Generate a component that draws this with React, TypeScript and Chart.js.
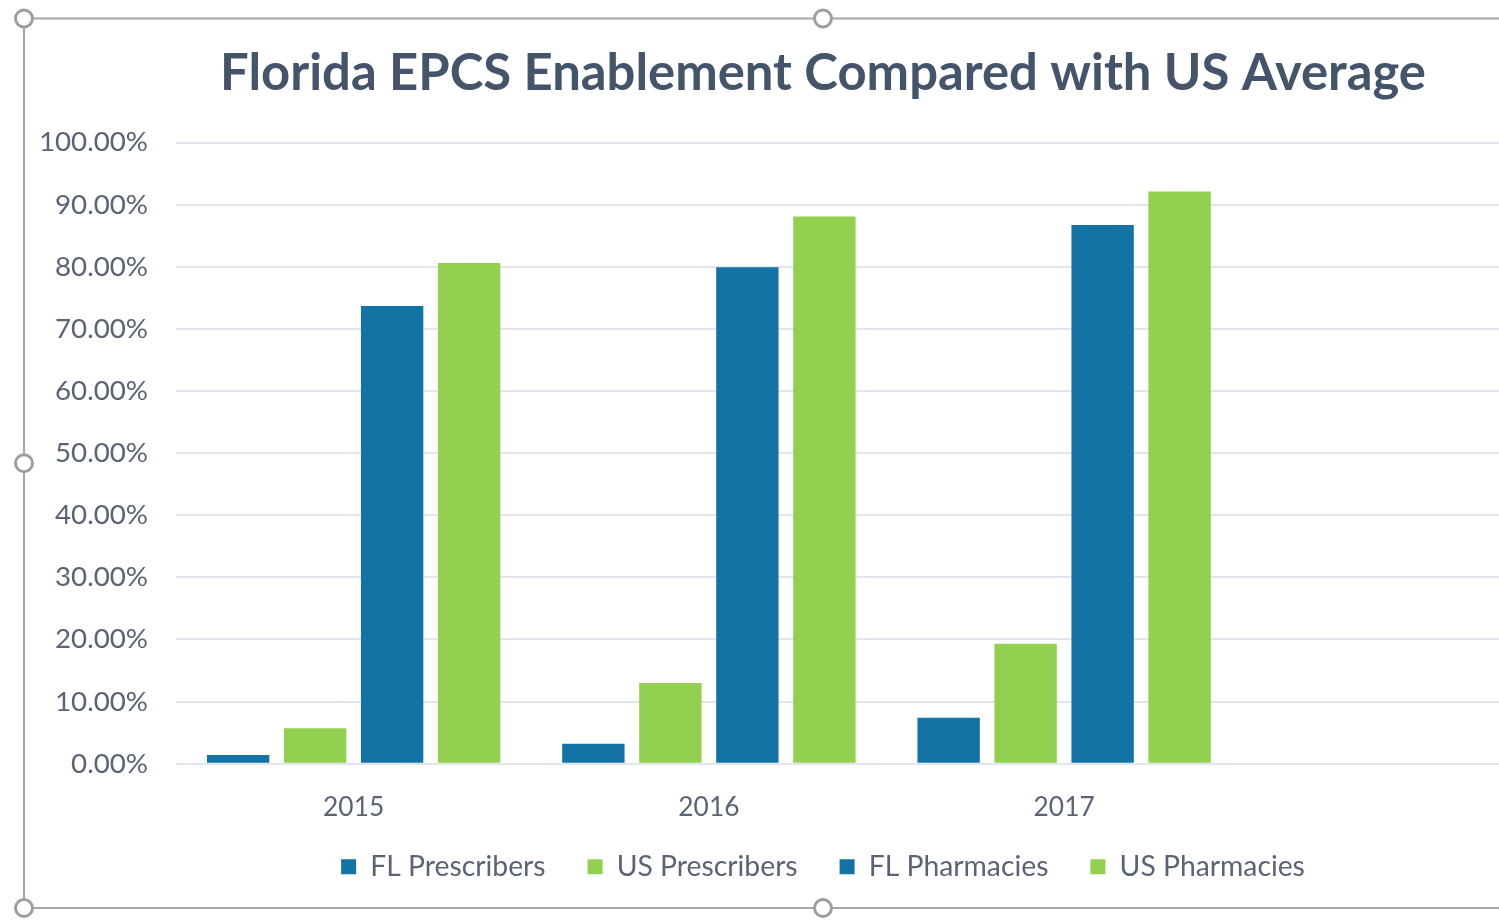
import React, { useEffect, useRef } from 'react';
import { Chart, registerables } from 'chart.js';

Chart.register(...registerables);

// ---- data ----
const categories = ['2015', '2016', '2017', ''];
const flPrescribers = [1.4, 3.2, 7.4, null];
const usPrescribers = [5.7, 13.0, 19.3, null];
const flPharmacies = [73.7, 79.9, 86.7, null];
const usPharmacies = [80.6, 88.1, 92.1, null];
const seriesNames = ['FL Prescribers', 'US Prescribers', 'FL Pharmacies', 'US Pharmacies'];
const titleText = 'Florida EPCS Enablement Compared with US Average';
const yMin = 0;
const yMax = 100;
const yStep = 10;

// ---- style ----
const W = 1650;
const H = 920;
const BLUE = '#1373A5';
const GREEN = '#92D050';
const TITLE_COLOR = '#44546A';
const TEXT_COLOR = '#5A6475';
const GRID_COLOR = '#E2E6EC';
const FAMILY = 'Lato, "Open Sans", sans-serif';

function fitSize(text: string, weight: string, target: number): number {
  const ctx = document.createElement('canvas').getContext('2d') as CanvasRenderingContext2D;
  ctx.font = `${weight} 100px ${FAMILY}`;
  const w = ctx.measureText(text).width;
  return Math.round((100 * target) / w * 10) / 10;
}

const legendShiftPlugin = {
  id: 'legendShift',
  afterLayout(chart: any) {
    const lg = chart.legend;
    if (lg) {
      lg.top -= 10;
      lg.bottom -= 10;
    }
  },
};

const framePlugin = {
  id: 'frame',
  afterDraw(chart: any) {
    const ctx = chart.ctx as CanvasRenderingContext2D;
    const L = 24, T = 18.5, R = 1622, B = 908;
    ctx.save();
    ctx.strokeStyle = '#A6A6A6';
    ctx.lineWidth = 2;
    ctx.strokeRect(L, T, R - L, B - T);
    const mx = (L + R) / 2;
    const my = (T + B) / 2;
    const handles = [
      [L, T], [mx, T], [R, T], [L, my], [R, my], [L, B], [mx, B], [R, B],
    ];
    for (const [x, y] of handles) {
      ctx.beginPath();
      ctx.arc(x, y, 8.5, 0, Math.PI * 2);
      ctx.fillStyle = '#FFFFFF';
      ctx.fill();
      ctx.lineWidth = 3;
      ctx.strokeStyle = '#9E9E9E';
      ctx.stroke();
    }
    ctx.restore();
  },
};

export default function App() {
  const ref = useRef<HTMLCanvasElement>(null);

  useEffect(() => {
    if (!ref.current) return;
    const titleSize = fitSize(titleText, 'bold', 1207);
    const tickSize = fitSize('100.00%', 'normal', 109);
    const xSize = fitSize('2015', 'normal', 61);
    const legendSize = fitSize('FL Prescribers', 'normal', 175);

    const topPad = 18;
    const titleMid = 74;
    const plotTop = 142.5;
    const titlePadTop = titleMid - topPad - 0.6 * titleSize;
    const titlePadBottom = plotTop - titleMid - 0.6 * titleSize;

    const colors = [BLUE, GREEN, BLUE, GREEN];
    const values = [flPrescribers, usPrescribers, flPharmacies, usPharmacies];

    const chart = new Chart(ref.current, {
      type: 'bar',
      data: {
        labels: categories,
        datasets: seriesNames.map((name, i) => ({
          label: name,
          data: values[i],
          backgroundColor: colors[i],
          borderWidth: 0,
          categoryPercentage: 0.867,
          barPercentage: 0.81,
        })),
      },
      options: {
        responsive: false,
        animation: false,
        devicePixelRatio: 1,
        layout: { padding: { left: 24, right: 28, top: topPad, bottom: 19 } },
        plugins: {
          title: {
            display: true,
            text: titleText,
            color: TITLE_COLOR,
            font: { family: FAMILY, size: titleSize, weight: 'bold', lineHeight: 1.2 },
            padding: { top: titlePadTop, bottom: titlePadBottom },
          },
          legend: {
            display: true,
            position: 'bottom',
            labels: {
              color: TEXT_COLOR,
              font: { family: FAMILY, size: legendSize },
              boxWidth: 15,
              boxHeight: 15,
              padding: 42,
            },
          },
          tooltip: { enabled: false },
        },
        scales: {
          x: {
            grid: { display: false },
            border: { display: false },
            ticks: {
              color: TEXT_COLOR,
              font: { family: FAMILY, size: xSize },
              padding: 20,
              maxRotation: 0,
            },
            afterFit: (s: any) => { s.height = 57; },
          },
          y: {
            min: yMin,
            max: yMax,
            grid: { color: GRID_COLOR, lineWidth: 2, drawTicks: false },
            border: { display: false },
            ticks: {
              stepSize: yStep,
              color: TEXT_COLOR,
              font: { family: FAMILY, size: tickSize },
              padding: 28,
              callback: (v: any) => Number(v).toFixed(2) + '%',
            },
            afterFit: (s: any) => { s.width = 152; },
          },
          yRight: {
            position: 'right',
            display: true,
            grid: { display: false },
            border: { display: false },
            ticks: { display: false },
            afterFit: (s: any) => { s.width = 25; },
          },
        },
      },
      plugins: [legendShiftPlugin, framePlugin],
    } as any);

    return () => chart.destroy();
  }, []);

  return (
    <div style={{ position: 'fixed', left: 0, top: 0, width: W, height: H, overflow: 'hidden', background: '#fff' }}>
      <canvas ref={ref} width={W} height={H} style={{ display: 'block' }} />
    </div>
  );
}
